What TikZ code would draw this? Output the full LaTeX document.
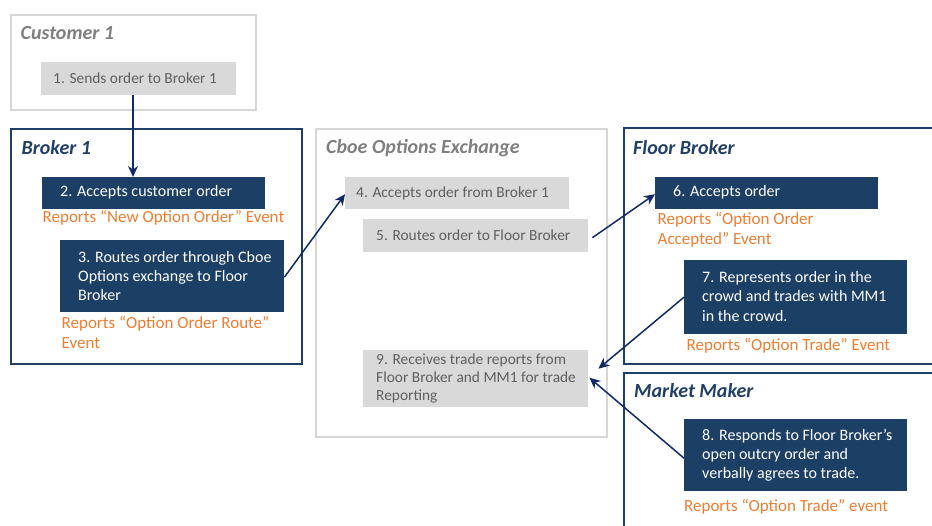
\documentclass[tikz,border=0pt]{standalone}
\usepackage{fontspec}
\setmainfont{Carlito}
\usetikzlibrary{arrows.meta}
\definecolor{navyfill}{HTML}{1C3F66}
\definecolor{navyline}{HTML}{1F3F66}
\definecolor{arrowcol}{HTML}{0F2A66}
\definecolor{graybox}{HTML}{D9D9D9}
\definecolor{grayline}{HTML}{D6D6D6}
\definecolor{graytext}{HTML}{5F5F5F}
\definecolor{graytitle}{HTML}{7F7F7F}
\definecolor{orangetxt}{HTML}{ED7D31}
\tikzset{
  grayframe/.style={draw=grayline, line width=2pt, inner sep=0, anchor=north west},
  blueframe/.style={draw=navyline, line width=1.7pt, inner sep=0, anchor=north west},
  titletxt/.style={anchor=west, inner sep=0, font=\fontsize{20}{22}\selectfont\bfseries\itshape},
  graystep/.style={fill=graybox, inner sep=0, anchor=north west},
  bluestep/.style={fill=navyfill, inner sep=0, anchor=north west},
  steptxt/.style={anchor=west, inner sep=0, align=left, font=\fontsize{16}{19.2}\selectfont},
  graysteptxt/.style={anchor=west, inner sep=0, align=left, text=graytext, font=\fontsize{15.4}{18.4}\selectfont},
  reporttxt/.style={anchor=west, inner sep=0, align=left, text=orangetxt, font=\fontsize{17}{20.2}\selectfont},
  arr/.style={draw=arrowcol, line width=1.5pt, -{Stealth[length=11pt,width=10pt]}}
}
\begin{document}
\begin{tikzpicture}[x=1pt,y=-1pt]
\useasboundingbox (0,0) rectangle (932,525);
\clip (0,0) rectangle (932,525);
% containers
\node[grayframe, minimum width=245, minimum height=95] (cust) at (10,14) {};
\node[blueframe, minimum width=291, minimum height=235] (brok) at (10,128) {};
\node[grayframe, minimum width=291, minimum height=308] (cboe) at (315,128) {};
\node[blueframe, minimum width=330, minimum height=236] (floor) at (623,127) {};
\node[blueframe, minimum width=330, minimum height=170] (mm) at (623,372) {};
% titles
\node[titletxt, text=graytitle] (tcust) at (20.5,33) {Customer 1};
\node[titletxt, text=navyline] (tbrok) at (21.5,148) {Broker 1};
\node[titletxt, text=graytitle] (tcboe) at (326,148) {Cboe Options Exchange};
\node[titletxt, text=navyline] (tfloor) at (633,148) {Floor Broker};
\node[titletxt, text=navyline] (tmm) at (634,391) {Market Maker};
% step boxes
\node[graystep, minimum width=195, minimum height=33] (s1) at (41,62) {};
\node[bluestep, minimum width=223, minimum height=32] (s2) at (42,177) {};
\node[bluestep, minimum width=224, minimum height=72] (s3) at (60,240) {};
\node[graystep, minimum width=224, minimum height=32] (s4) at (345,177) {};
\node[graystep, minimum width=225, minimum height=33] (s5) at (363,219) {};
\node[graystep, minimum width=225, minimum height=57] (s9) at (363,350) {};
\node[bluestep, minimum width=223, minimum height=32] (s6) at (655,177) {};
\node[bluestep, minimum width=223, minimum height=74] (s7) at (684,260) {};
\node[bluestep, minimum width=223, minimum height=72] (s8) at (684,419) {};
% step texts
\node[graysteptxt] (t1) at (53,78.5) {1. Sends order to Broker 1};
\node[steptxt, text=white] (t2) at (60,192.5) {2. Accepts customer order};
\node[steptxt, text=white] (t3) at (78,276) {3. Routes order through Cboe\\Options exchange to Floor\\Broker};
\node[graysteptxt] (t4) at (356,193) {4. Accepts order from Broker 1};
\node[graysteptxt] (t5) at (376,235.5) {5. Routes order to Floor Broker};
\node[graysteptxt] (t9) at (376,378.5) {9. Receives trade reports from\\Floor Broker and MM1 for trade\\Reporting};
\node[steptxt, text=white] (t6) at (673,192.5) {6. Accepts order};
\node[steptxt, text=white] (t7) at (702,296.5) {7. Represents order in the\\crowd and trades with MM1\\in the crowd.};
\node[steptxt, text=white] (t8) at (702,455) {8. Responds to Floor Broker’s\\open outcry order and\\verbally agrees to trade.};
% report texts
\node[reporttxt] (r2) at (42.5,218) {Reports “New Option Order” Event};
\node[reporttxt] (r3) at (61.5,332.5) {Reports “Option Order Route”\\Event};
\node[reporttxt] (r6) at (657.5,230) {Reports “Option Order\\Accepted” Event};
\node[reporttxt] (r7) at (686.5,346) {Reports “Option Trade” Event};
\node[reporttxt] (r8) at (684,507) {Reports “Option Trade” event};
% arrows
\draw[arr] ([xshift=92pt]s1.south west) -- ([xshift=91pt]s2.north west);
\draw[arr] ([yshift=-1pt]s3.east) -- ([yshift=-1pt]s4.west);
\draw[arr] ([xshift=4pt,yshift=-2pt]s5.east) -- ([yshift=-1pt]s6.west);
\draw[arr] (s7.west) -- ([xshift=10pt,yshift=10pt]s9.east);
\draw[arr] ([yshift=-3pt]s8.west) -- ([xshift=1pt,yshift=1pt]s9.east);
\end{tikzpicture}
\end{document}
